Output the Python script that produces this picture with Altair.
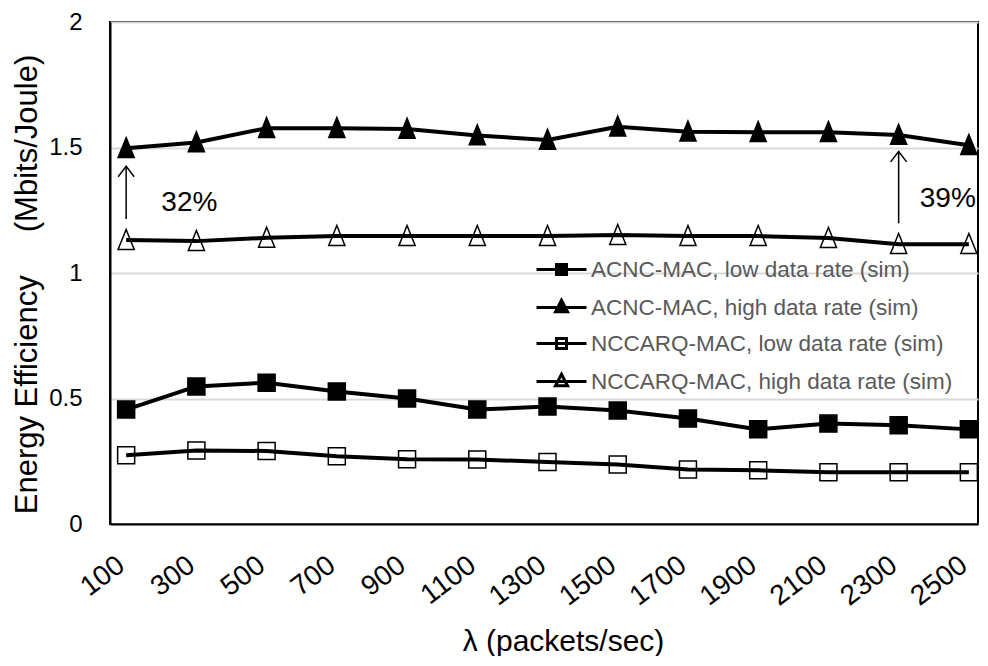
import altair as alt
import pandas as pd

lam = [100, 300, 500, 700, 900, 1100, 1300, 1500, 1700, 1900, 2100, 2300, 2500]
acnc_low = [0.456, 0.548, 0.563, 0.528, 0.500, 0.456, 0.468, 0.452, 0.420, 0.377, 0.400, 0.393, 0.377]
acnc_high = [1.497, 1.520, 1.577, 1.577, 1.574, 1.548, 1.530, 1.583, 1.563, 1.561, 1.561, 1.550, 1.509]
ncc_low = [0.274, 0.293, 0.291, 0.270, 0.258, 0.257, 0.247, 0.237, 0.217, 0.214, 0.206, 0.206, 0.206]
ncc_high = [1.131, 1.127, 1.140, 1.147, 1.147, 1.147, 1.147, 1.151, 1.147, 1.147, 1.139, 1.115, 1.115]

series_names = [
    "ACNC-MAC, low data rate (sim)",
    "ACNC-MAC, high data rate (sim)",
    "NCCARQ-MAC, low data rate (sim)",
    "NCCARQ-MAC, high data rate (sim)",
]
series_values = [acnc_low, acnc_high, ncc_low, ncc_high]

arrow_x = [100, 2300]
arrow_lo = [1.215, 1.198]
arrow_hi = [1.425, 1.484]
note_text = ["32%", "39%"]
note_x = [280, 2440]
note_y = [1.278, 1.294]

rows = []
for name, vals in zip(series_names, series_values):
    for x, v in zip(lam, vals):
        rows.append({"series": name, "lam": x, "eff": v})
df = pd.DataFrame(rows)
arrows = pd.DataFrame({"x": arrow_x, "lo": arrow_lo, "hi": arrow_hi})
notes = pd.DataFrame({"x": note_x, "y": note_y, "t": note_text})

FONT = "Liberation Sans"

SQ = "M-1,-1H1V1H-1Z"
TRI = "M0,-1.25L0.95,1.1L-0.95,1.1Z"
LEG_SQ = "M-2.5,0H2.5M-0.5,-0.5H0.5V0.5H-0.5Z"
LEG_TRI = "M-2.5,0H2.5M0,-0.72L0.6,0.42H-0.6Z"

xscale = alt.Scale(domain=[54, 2526], nice=False, zero=False)
yscale = alt.Scale(domain=[0, 2], nice=False)

xenc = alt.X(
    "lam:Q",
    scale=xscale,
    axis=alt.Axis(
        values=lam,
        format="d",
        title="λ (packets/sec)",
        labelAngle=-37,
        labelAlign="right",
        labelBaseline="middle",
        labelFontSize=28,
        labelFont=FONT,
        labelColor="#000000",
        labelPadding=38,
        labelOffset=-5,
        ticks=False,
        grid=False,
        domainColor="#000000",
        domainWidth=2,
        titleFont=FONT,
        titleFontSize=30,
        titleFontWeight="normal",
        titleColor="#000000",
        titleX=453,
        titleY=126,
        titleBaseline="alphabetic",
        labelFlush=False,
        labelOverlap=False,
    ),
)
yenc = alt.Y(
    "eff:Q",
    scale=yscale,
    axis=alt.Axis(
        values=[0, 0.5, 1, 1.5, 2],
        format="~g",
        title="Energy Efficiency\u00a0\u00a0\u00a0\u00a0\u00a0(Mbits/Joule)",
        labelFontSize=24,
        labelFont=FONT,
        labelColor="#000000",
        labelPadding=28,
        ticks=False,
        grid=True,
        gridColor="#d9d9d9",
        gridWidth=2,
        domainColor="#000000",
        domainWidth=2,
        titleFont=FONT,
        titleFontSize=31,
        titleFontWeight="normal",
        titleColor="#000000",
        titleX=-74,
        titleY=262,
        titleAngle=270,
        titleAlign="center",
        titleBaseline="alphabetic",
        labelFlush=False,
    ),
)

lines = alt.Chart(df).mark_line(color="black", strokeWidth=4).encode(
    x=xenc, y=yenc, detail="series:N", order="lam:Q"
)

points = alt.Chart(df).mark_point(
    filled=True, stroke="black", strokeWidth=1.5, size=289, opacity=1
).encode(
    x="lam:Q",
    y="eff:Q",
    shape=alt.Shape("series:N", scale=alt.Scale(domain=series_names, range=[SQ, TRI, SQ, TRI]), legend=None),
    fill=alt.Fill("series:N", scale=alt.Scale(domain=series_names, range=["black", "black", "transparent", "transparent"]), legend=None),
)

legend = alt.Legend(
    title=None,
    orient="none",
    legendX=440,
    legendY=236,
    labelFont=FONT,
    labelFontSize=22.5,
    labelColor="#595959",
    labelOffset=18,
    symbolStrokeColor="black",
    symbolStrokeWidth=3,
    symbolSize=400,
    symbolOpacity=1,
    rowPadding=13,
    labelLimit=500,
)

legend_layer = alt.Chart(df).mark_point(
    filled=True, strokeWidth=3, size=400, opacity=0
).encode(
    x="lam:Q",
    y="eff:Q",
    shape=alt.Shape("series:N", scale=alt.Scale(domain=series_names, range=[LEG_SQ, LEG_TRI, LEG_SQ, LEG_TRI]), legend=legend),
    fill=alt.Fill("series:N", scale=alt.Scale(domain=series_names, range=["black", "black", "transparent", "transparent"]), legend=legend),
    stroke=alt.Stroke("series:N", scale=alt.Scale(domain=series_names, range=["black", "black", "black", "black"]), legend=legend),
)

arrow_shaft = alt.Chart(arrows).mark_rule(color="black", strokeWidth=1.5).encode(
    x="x:Q", y="lo:Q", y2="hi:Q"
)
arrow_head = alt.Chart(arrows).mark_point(
    shape="M-1,1.3L0,0L1,1.3", filled=False, stroke="black", strokeWidth=1.5, size=256, opacity=1
).encode(x="x:Q", y="hi:Q")

note_layer = alt.Chart(notes).mark_text(
    font=FONT, fontSize=28, color="black", align="center", baseline="middle"
).encode(x="x:Q", y="y:Q", text="t:N")

chart = alt.layer(
    lines, points, arrow_shaft, arrow_head, note_layer, legend_layer
).resolve_scale(
    shape="independent", fill="independent", stroke="independent"
).properties(
    width=868,
    height=502,
    background="white",
    autosize=alt.AutoSizeParams(type="none"),
    padding={"left": 102, "top": 14, "right": 2, "bottom": 132},
).configure_view(
    stroke="black", strokeWidth=2
)

chart.save("out.html", embed_options={"renderer": "svg", "actions": False})
